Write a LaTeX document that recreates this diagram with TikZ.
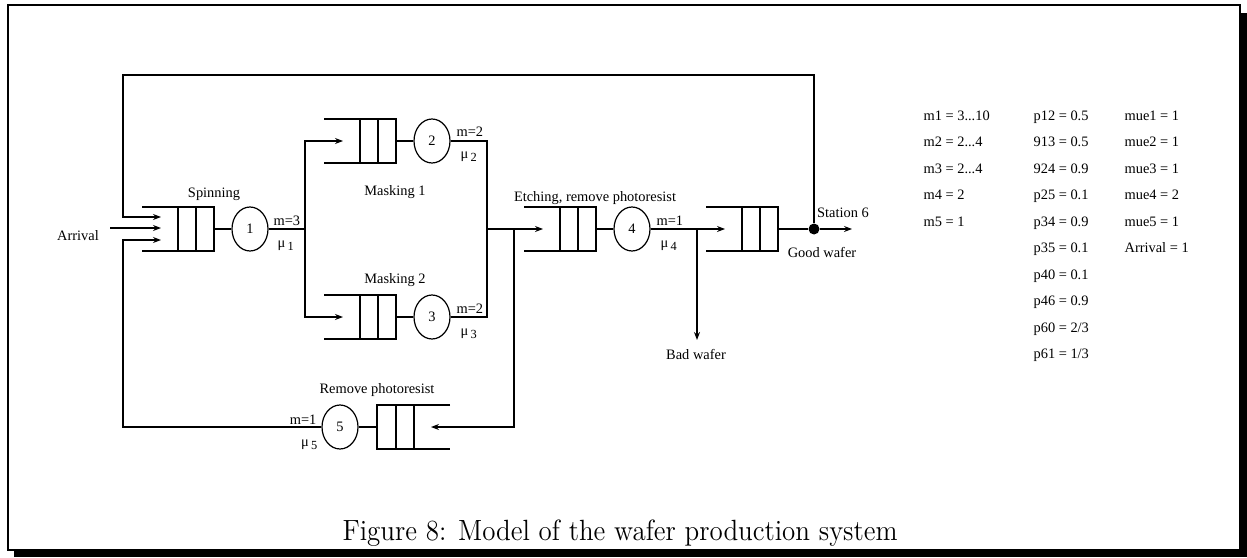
\documentclass[tikz,border=0pt]{standalone}
\usepackage{fontspec}
\usepackage{graphicx}
\newfontfamily\tms{Liberation Serif}
\usetikzlibrary{shapes.geometric,arrows.meta}
\newcommand{\dfont}{\tms\fontsize{7.2}{8.6}\selectfont}
\newcommand{\mus}[1]{μ\kern1.2pt\raisebox{-1.8pt}{\fontsize{6.2}{7}\selectfont #1}}
\begin{document}
\begin{tikzpicture}[x=0.5pt,y=-0.5pt,line width=0.6pt,
  >={Stealth[length=4pt,width=3pt]},
  server/.style={ellipse,draw,minimum width=18pt,minimum height=22pt,inner sep=0pt,font=\dfont},
  lbl/.style={font=\dfont,inner sep=0pt,anchor=base},
  lblw/.style={font=\dfont,inner sep=0pt,anchor=base west},
  lble/.style={font=\dfont,inner sep=0pt,anchor=base east},
  queueR/.pic={\draw (-72,-22) -- (0,-22) -- (0,22) -- (-72,22);
               \draw (-18,-22) -- (-18,22); \draw (-36,-22) -- (-36,22);
               \coordinate (-out) at (0,0);},
  queueL/.pic={\draw (73,-22) -- (0,-22) -- (0,22) -- (73,22);
               \draw (19,-22) -- (19,22); \draw (37,-22) -- (37,22);
               \coordinate (-out) at (0,0);}
]
\useasboundingbox (0,0) rectangle (1247,557);
% frame with shadow
\fill (14,549) rectangle (1247,557);
\fill (1239,13) rectangle (1247,557);
\draw[line width=1pt] (8,5) rectangle (1240,550);

% queues
\pic (q1) at (214,229) {queueR};
\pic (q2) at (396,141) {queueR};
\pic (q3) at (396,317) {queueR};
\pic (q4) at (596,229) {queueR};
\pic (q6) at (778,229) {queueR};
\pic (q5) at (377,427) {queueL};

% servers
\node[server] (s1) at (250,229) {1};
\node[server] (s2) at (432,141) {2};
\node[server] (s3) at (432,317) {3};
\node[server] (s4) at (632,229) {4};
\node[server] (s5) at (340,427) {5};
\node[circle,fill,inner sep=0pt,minimum size=5.5pt] (dot) at (814,229) {};

% coordinates
\coordinate (arrS) at (110,228);
\coordinate (t1) at (161,217);
\coordinate (t2) at (161,228);
\coordinate (t3) at (161,240);
\coordinate (lx) at (123,75);
\coordinate (lt) at (123,217);
\coordinate (lb) at (123,240);
\coordinate (split) at (305,229);
\coordinate (a2) at (343,141);
\coordinate (a3) at (343,317);
\coordinate (merge) at (487,229);
\coordinate (a4) at (543,229);
\coordinate (br5) at (514,229);
\coordinate (a5) at (431,427);
\coordinate (a6) at (725,229);
\coordinate (bad) at (697,229);
\coordinate (badend) at (697,340);
\coordinate (out6) at (852,229);

% connectors
\draw[->] (arrS) -- (t2);
\draw[->] (dot) |- (lx) -- (lt) -- (t1);
\draw[->] (s5.west) -| (lb) -- (t3);
\draw (q1-out) -- (s1.west);
\draw (s1.east) -- (split);
\draw[->] (split) |- (a2);
\draw[->] (split) |- (a3);
\draw (q2-out) -- (s2.west);
\draw (q3-out) -- (s3.west);
\draw (s2.east) -| (merge);
\draw (s3.east) -| (merge);
\draw[->] (merge) -- (a4);
\draw[->] (br5) |- (a5);
\draw (q5-out) -- (s5.east);
\draw (q4-out) -- (s4.west);
\draw[->] (s4.east) -- (a6);
\draw[->] (bad) -- (badend);
\draw (q6-out) -- (dot);
\draw[->] (dot) -- (out6);

% labels
\node[lbl] (lArr) at (78,240) {Arrival};
\node[lbl] (lSpin) at (214,197) {Spinning};
\node[lblw] (m1) at (273,225) {m=3};
\node[lblw] (u1) at (277,247) {\mus{1}};
\node[lblw] (m2) at (456,136) {m=2};
\node[lblw] (u2) at (460,158) {\mus{2}};
\node[lblw] (m3) at (456,313) {m=2};
\node[lblw] (u3) at (460,335) {\mus{3}};
\node[lbl] (lM1) at (395,195) {Masking 1};
\node[lbl] (lM2) at (395,283) {Masking 2};
\node[lbl] (lEt) at (595,201) {Etching, remove photoresist};
\node[lblw] (m4) at (656,225) {m=1};
\node[lblw] (u4) at (660,247) {\mus{4}};
\node[lbl] (lBad) at (696,359) {Bad wafer};
\node[lbl] (lSt) at (843,217) {Station 6};
\node[lbl] (lGood) at (822,257) {Good wafer};
\node[lbl] (lRem) at (377,393) {Remove photoresist};
\node[lble] (m5) at (317,424) {m=1};
\node[lble] (u5) at (318,446) {\mus{5}};

% parameter table
\node[lblw] (pa1) at (923,120) {m1 = 3...10};
\node[lblw] (pa2) at (923,146.5) {m2 = 2...4};
\node[lblw] (pa3) at (923,173) {m3 = 2...4};
\node[lblw] (pa4) at (923,199.5) {m4 = 2};
\node[lblw] (pa5) at (923,226) {m5 = 1};
\foreach \t [count=\i] in {p12 = 0.5, 913 = 0.5, 924 = 0.9, p25 = 0.1, p34 = 0.9, p35 = 0.1, p40 = 0.1, p46 = 0.9, p60 = 2/3, p61 = 1/3}
  \node[lblw] (pb\i) at (1033,{120+26.5*(\i-1)}) {\t};
\foreach \t [count=\i] in {mue1 = 1, mue2 = 1, mue3 = 1, mue4 = 2, mue5 = 1, Arrival = 1}
  \node[lblw] (pc\i) at (1124,{120+26.5*(\i-1)}) {\t};

% caption
\node[anchor=base west,inner sep=0pt] (cap) at (342,540) {\resizebox{277.5pt}{10.3pt}{\fontsize{14}{17}\selectfont Figure 8: Model of the wafer production system}};
\end{tikzpicture}
\end{document}
